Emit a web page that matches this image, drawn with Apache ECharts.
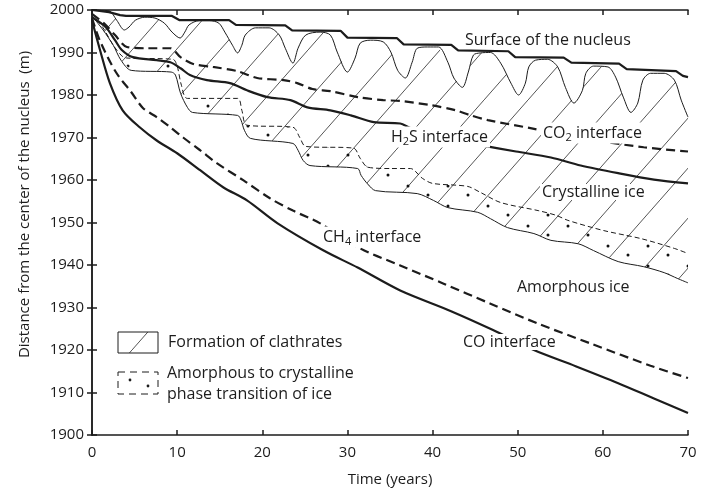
<!DOCTYPE html>
<html>
<head>
<meta charset="utf-8">
<script src="https://cdn.jsdelivr.net/npm/echarts@6/dist/echarts.min.js"></script>
<style>
html, body { margin: 0; padding: 0; background: #fff; }
#chart { width: 711px; height: 495px; }
</style>
</head>
<body>
<div id="chart"></div>
<script>
// [time (years), distance (m)]
var surface = [[0,2000],[2.0,1999.5],[3.3,1998.8],[4.0,1998.6],[9.4,1998.6],[10.3,1997.6],[16.1,1997.6],[16.9,1996.5],[22.7,1996.4],[23.5,1995.2],[29.2,1995.1],[30.0,1993.5],[35.8,1993.4],[36.6,1991.9],[42.2,1991.8],[43.0,1990.5],[48.9,1990.3],[49.7,1988.9],[55.4,1988.8],[56.3,1987.6],[61.9,1987.4],[62.8,1986.1],[68.6,1985.6],[69.4,1984.5],[70,1984.2]];

var clathrateTop = [[0,2000],[2.0,1999.8],[2.9,1997.6],[3.8,1995.3],[4.35,1996.0],[5.1,1997.6],[6.2,1998.3],[7.4,1998.1],[8.5,1996.9],[9.4,1994.8],[10.35,1993.4],[10.9,1994.8],[11.4,1996.5],[12.6,1997.5],[13.8,1997.5],[14.9,1996.9],[15.6,1994.8],[16.5,1991.7],[17.1,1989.9],[17.6,1991.7],[18.0,1994.1],[19.2,1995.8],[20.8,1995.8],[22.0,1994.1],[22.7,1991.0],[23.6,1987.5],[24.2,1991.0],[25.1,1994.1],[26.8,1994.8],[28.0,1994.1],[28.8,1990.1],[30.0,1985.4],[30.9,1988.7],[31.5,1992.2],[32.7,1992.9],[34.2,1992.5],[35.1,1990.1],[35.9,1985.8],[36.8,1984.0],[37.6,1987.7],[38.2,1991.0],[39.4,1991.3],[40.7,1991.3],[41.8,1987.7],[42.5,1984.0],[43.5,1981.8],[44.2,1985.4],[44.8,1989.4],[45.6,1989.9],[46.8,1990.0],[48.0,1987.5],[49.2,1982.8],[50.1,1980.0],[50.9,1982.8],[51.3,1986.6],[52.1,1988.2],[53.5,1988.4],[54.7,1986.6],[55.6,1981.8],[56.6,1978.1],[57.6,1981.1],[58.0,1985.1],[58.9,1986.8],[60.6,1986.6],[61.5,1984.2],[62.4,1979.5],[63.3,1975.9],[64.1,1978.1],[64.7,1983.5],[65.6,1985.1],[67.2,1985.1],[68.4,1983.5],[69.2,1978.8],[70.0,1974.8]];

var co2Front = [[0,1999.1],[1.5,1996.7],[2.7,1994.1],[4.1,1991.3],[6.6,1991.0],[9.2,1991.0],[10.4,1988.9],[11.9,1987.3],[14.2,1986.6],[17.1,1985.6],[19.4,1984.0],[22.5,1983.5],[24.1,1982.8],[25.9,1981.4],[28.0,1980.9],[31.2,1979.5],[34.2,1978.8],[36.2,1978.6],[39.8,1977.6],[42.7,1976.4],[44.5,1975.2],[46.5,1974.1],[51.5,1972.2],[58.6,1969.5],[64.8,1967.7],[70,1966.7]];

var h2sFront = [[0,1998.3],[1.6,1996.0],[2.7,1992.9],[3.5,1990.6],[4.8,1988.9],[7.6,1988.2],[9.2,1987.7],[10.4,1986.3],[11.5,1984.7],[13.5,1983.5],[16.2,1982.8],[18.2,1981.1],[20.6,1979.5],[23.3,1978.8],[25.3,1977.1],[28.0,1976.4],[30.4,1975.2],[33.1,1973.6],[36.2,1973.3],[37.4,1972.2],[41.5,1969.8],[45.6,1968.2],[49.8,1966.7],[53.9,1965.3],[57.4,1963.4],[61.8,1961.6],[66.0,1960.1],[70,1959.2]];

var transitionTop = [[0,1999.1],[1.3,1995.8],[2.5,1991.7],[3.5,1989.2],[4.1,1988.7],[9.5,1988.4],[10.0,1986.8],[10.5,1982.3],[11.2,1979.2],[17.1,1979.2],[17.6,1976.4],[18.2,1972.9],[23.6,1972.4],[24.4,1970.0],[25.1,1967.9],[30.7,1967.5],[31.5,1965.1],[32.4,1963.0],[35.1,1962.7],[37.4,1962.7],[38.8,1960.4],[40.0,1959.2],[44.1,1958.5],[45.6,1957.1],[48.0,1954.7],[52.4,1952.8],[54.5,1951.7],[55.9,1950.5],[60.1,1948.1],[64.5,1946.2],[68.4,1943.9],[70,1942.7]];

var transitionBottom = [[0,1998.6],[1.3,1995.3],[2.5,1991.7],[3.4,1988.2],[4.6,1985.8],[9.3,1985.4],[9.8,1984.7],[10.4,1980.4],[11.2,1977.1],[11.8,1975.9],[17.1,1975.2],[17.5,1974.1],[17.9,1971.7],[18.6,1969.8],[23.6,1968.6],[24.2,1967.0],[24.8,1964.6],[25.6,1963.4],[31.2,1962.7],[31.6,1961.1],[32.4,1959.0],[33.3,1957.5],[38.2,1956.8],[40.1,1955.2],[41.8,1953.5],[45.3,1952.4],[46.8,1950.9],[48.8,1948.8],[51.9,1947.4],[53.9,1945.8],[57.1,1945.0],[58.9,1943.4],[61.8,1940.8],[64.8,1939.6],[67.2,1938.2],[68.8,1936.8],[70,1935.8]];

var ch4Front = [[0,1998.1],[0.9,1992.9],[2.8,1985.4],[4.6,1980.7],[6.0,1976.9],[7.6,1974.8],[9.2,1972.4],[10.7,1970.0],[12.7,1967.0],[14.7,1963.9],[17.8,1959.9],[20.9,1955.7],[23.6,1952.8],[26.8,1949.8],[31.5,1943.9],[36.2,1939.9],[41.3,1935.6],[46.8,1930.9],[52.4,1926.2],[58.6,1921.5],[65.6,1916.3],[70,1913.4]];

var coFront = [[0,1997.6],[0.94,1990.6],[2.1,1982.8],[3.6,1976.4],[5.6,1972.4],[7.6,1969.3],[10.0,1966.3],[12.7,1962.3],[15.4,1958.3],[18.2,1955.2],[21.8,1949.8],[27.2,1943.4],[31.2,1939.4],[36.2,1934.0],[42.1,1929.2],[47.1,1924.7],[51.9,1920.0],[56.8,1916.2],[61.8,1912.2],[66.0,1908.6],[70,1905.2]];

var FONT = '"Open Sans", sans-serif';
var INK = '#1c1c1c';

// fill patterns
function hatchTile() {
    var w = 44, h = 50;
    var c = document.createElement('canvas');
    c.width = w; c.height = h;
    var g = c.getContext('2d');
    g.strokeStyle = '#2a2a2a';
    g.lineWidth = 0.8;
    g.beginPath();
    g.moveTo(-w, 2 * h);
    g.lineTo(2 * w, -h);
    g.stroke();
    return c;
}
function dotTile() {
    var w = 40, h = 20;
    var c = document.createElement('canvas');
    c.width = w; c.height = h;
    var g = c.getContext('2d');
    g.fillStyle = '#111';
    [[8, 6], [28, 15]].forEach(function (d) {
        g.beginPath();
        g.arc(d[0], d[1], 1.5, 0, Math.PI * 2);
        g.fill();
    });
    return c;
}
var hatch = { image: hatchTile(), repeat: 'repeat' };
var dots = { image: dotTile(), repeat: 'repeat' };

function band(upper, lower, fill) {
    return {
        type: 'custom',
        silent: true,
        z: 1,
        data: [[0, 1950]],
        renderItem: function (params, api) {
            var pts = [];
            upper.forEach(function (p) { pts.push(api.coord(p)); });
            for (var i = lower.length - 1; i >= 0; i--) pts.push(api.coord(lower[i]));
            return { type: 'polygon', shape: { points: pts }, style: { fill: fill, stroke: null } };
        }
    };
}

function curve(data, width, dash, smooth) {
    return {
        type: 'line',
        data: data,
        symbol: 'none',
        smooth: smooth,
        silent: true,
        z: 3,
        lineStyle: { color: INK, width: width, type: dash || 'solid' }
    };
}

function label(text, x, y, bg) {
    return {
        type: 'text', x: x, y: y, z: 50,
        style: {
            text: text, fill: INK, fontSize: 16, fontFamily: FONT,
            align: 'left', verticalAlign: 'middle',
            backgroundColor: bg ? '#fff' : null, padding: bg ? [0, 2] : 0,
            rich: {
                b: { fontSize: 16, fontFamily: FONT, fill: INK, lineHeight: 21 },
                s: { fontSize: 11, fontFamily: FONT, fill: INK, lineHeight: 13, verticalAlign: 'bottom' }
            }
        }
    };
}

var axisLine = { show: true, lineStyle: { color: INK, width: 1.5 } };
var axisTick = { show: true, inside: true, length: 5, lineStyle: { color: INK, width: 1.5 } };
var plain = function (v) { return String(v); };

var option = {
    animation: false,
    grid: { left: 92, right: 23, top: 10, bottom: 60 },
    xAxis: [{
        type: 'value', min: 0, max: 70, interval: 10,
        axisLine: axisLine, axisTick: axisTick, splitLine: { show: false },
        axisLabel: { color: INK, fontSize: 15, fontFamily: FONT, margin: 10, formatter: plain },
        name: 'Time (years)', nameLocation: 'middle', nameGap: 37,
        nameTextStyle: { color: INK, fontSize: 15, fontFamily: FONT }
    }, {
        type: 'value', min: 0, max: 70, interval: 10, position: 'top',
        axisLine: axisLine, axisTick: axisTick, splitLine: { show: false },
        axisLabel: { show: false }
    }],
    yAxis: [{
        type: 'value', min: 1900, max: 2000, interval: 10,
        axisLine: axisLine, axisTick: axisTick, splitLine: { show: false },
        axisLabel: { color: INK, fontSize: 15, fontFamily: FONT, margin: 8, formatter: plain },
        name: 'Distance from the center of the nucleus  (m)', nameLocation: 'middle', nameGap: 60,
        nameTextStyle: { color: INK, fontSize: 15, fontFamily: FONT, padding: [0, 0, 0, 36] }
    }, {
        type: 'value', min: 1900, max: 2000, interval: 10, position: 'right',
        axisLine: axisLine, axisTick: axisTick, splitLine: { show: false },
        axisLabel: { show: false }
    }],
    series: [
        band(clathrateTop, transitionBottom, hatch),
        band(transitionTop, transitionBottom, dots),
        curve(surface, 2.2, 'solid', false),
        curve(clathrateTop, 1, 'solid', 0.3),
        curve(co2Front, 2.2, [9, 5], 0.3),
        curve(h2sFront, 2.2, 'solid', 0.3),
        curve(transitionTop, 1, [5, 3], 0.3),
        curve(transitionBottom, 1, 'solid', 0.3),
        curve(ch4Front, 2.2, [9, 5], 0.3),
        curve(coFront, 2.2, 'solid', 0.3)
    ],
    graphic: [
        label('Surface of the nucleus', 465, 40, false),
        label('{b|H}{s|2}{b|S interface}', 389, 137, true),
        label('{b|CO}{s|2}{b| interface}', 541, 133, true),
        label('Crystalline ice', 540, 192, true),
        label('{b|CH}{s|4}{b| interface}', 321, 237, true),
        label('Amorphous ice', 517, 287, false),
        label('CO interface', 461, 342, true),
        {
            type: 'rect', z: 50,
            shape: { x: 118, y: 332, width: 40, height: 21 },
            style: { fill: hatch, stroke: INK, lineWidth: 1 }
        },
        label('Formation of clathrates', 168, 342, false),
        {
            type: 'rect', z: 50,
            shape: { x: 118, y: 372, width: 40, height: 22 },
            style: { fill: '#fff', stroke: INK, lineWidth: 1, lineDash: [7, 5] }
        },
        { type: 'circle', z: 51, shape: { cx: 130, cy: 380, r: 1.4 }, style: { fill: INK } },
        { type: 'circle', z: 51, shape: { cx: 148, cy: 386, r: 1.4 }, style: { fill: INK } },
        label('Amorphous to crystalline', 167, 373, false),
        label('phase transition of ice', 167, 394, false)
    ]
};

var chart = echarts.init(document.getElementById('chart'));
chart.setOption(option);
</script>
</body>
</html>
